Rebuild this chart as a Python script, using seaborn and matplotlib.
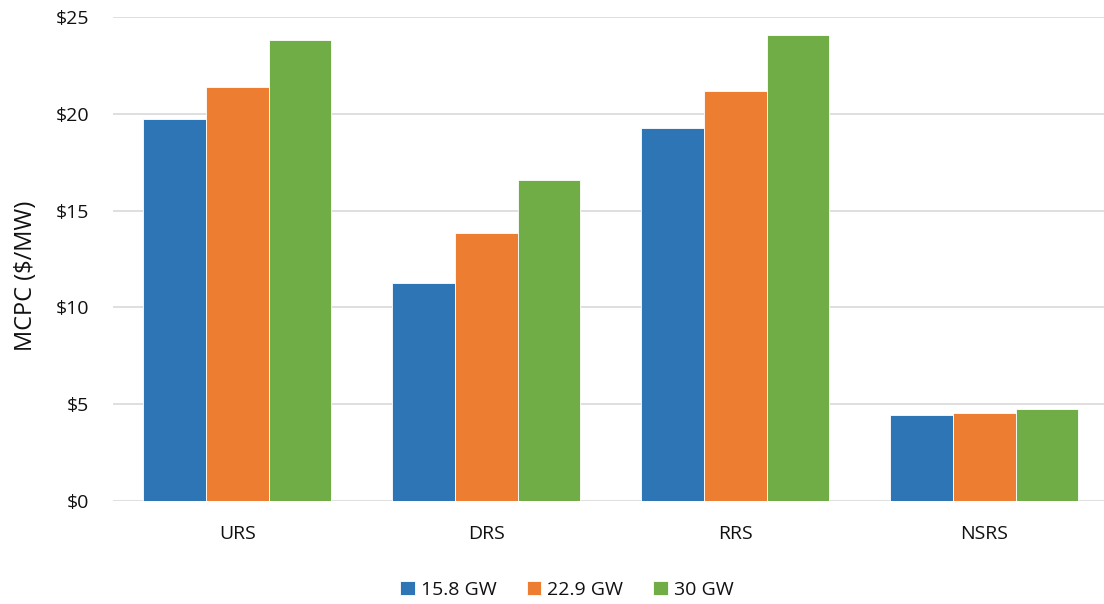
import matplotlib
matplotlib.use("Agg")
import matplotlib.pyplot as plt
import seaborn as sns
import pandas as pd
from matplotlib.ticker import FuncFormatter, MultipleLocator

# Market clearing price for capacity by ancillary service and load level
services = ["URS", "DRS", "RRS", "NSRS"]
load_levels = ["15.8 GW", "22.9 GW", "30 GW"]
mcpc_15_8 = [19.75, 11.24, 19.25, 4.46]
mcpc_22_9 = [21.37, 13.83, 21.18, 4.53]
mcpc_30 = [23.80, 16.58, 24.07, 4.77]
colors = ["#2E75B6", "#ED7D31", "#70AD47"]

rows = []
for level, vals in zip(load_levels, [mcpc_15_8, mcpc_22_9, mcpc_30]):
    for svc, v in zip(services, vals):
        rows.append({"Service": svc, "Load": level, "MCPC": v})
df = pd.DataFrame(rows)

sns.set_theme(style="white")
plt.rcParams["font.family"] = ["Open Sans", "DejaVu Sans"]

fig = plt.figure(figsize=(11.04, 6.04), dpi=100)
ax = fig.add_axes([0.1023, 0.1705, 0.9022, 0.8014])

sns.barplot(data=df, x="Service", y="MCPC", hue="Load", order=services,
            hue_order=load_levels, palette=colors, width=0.755,
            edgecolor="white", linewidth=0.6, saturation=1, ax=ax, legend=True)

ax.set_ylim(0, 25)
ax.yaxis.set_major_locator(MultipleLocator(5))
ax.yaxis.set_major_formatter(FuncFormatter(lambda v, _: f"${v:.0f}"))
ax.grid(axis="y", color="#D9D9D9", linewidth=1.2)
ax.set_axisbelow(True)
for s in ax.spines.values():
    s.set_visible(False)

ax.set_xlabel("")
ax.set_ylabel("MCPC ($/MW)", fontsize=17, color="#111111")
ax.yaxis.set_label_coords(-0.075, 0.465)
ax.tick_params(axis="y", labelsize=14, labelcolor="#111111", length=0, pad=17)
ax.tick_params(axis="x", labelsize=14, labelcolor="#111111", length=0, pad=17)

handles, labels = ax.get_legend_handles_labels()
ax.legend_.remove()
fig.legend(handles, labels, loc="center", bbox_to_anchor=(0.5135, 0.024),
           ncol=3, frameon=False, fontsize=14, handlelength=0.75,
           handleheight=0.75, handletextpad=0.3, columnspacing=1.55,
           labelcolor="#111111")

fig.savefig("out.png", dpi=100)
